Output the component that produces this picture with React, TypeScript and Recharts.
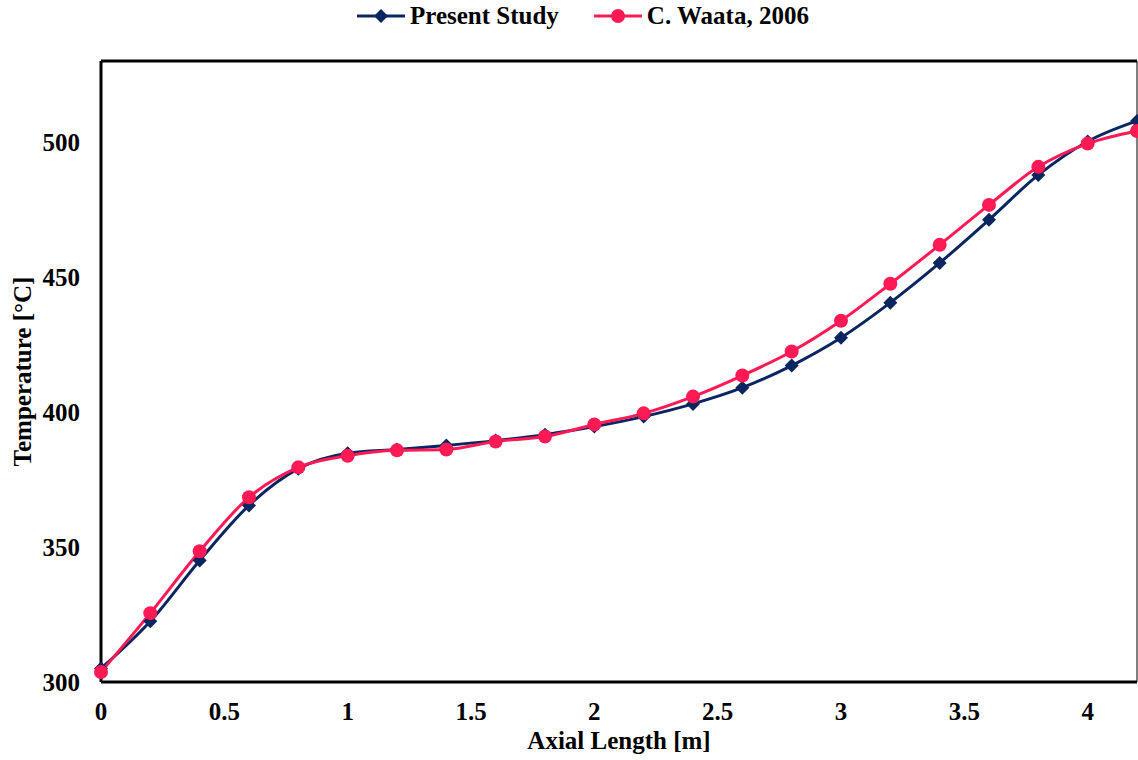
import React from "react";
import { LineChart, Line, XAxis, YAxis, ReferenceLine, Label } from "recharts";

const axialLength = [0, 0.2, 0.4, 0.6, 0.8, 1, 1.2, 1.4, 1.6, 1.8, 2, 2.2, 2.4, 2.6, 2.8, 3, 3.2, 3.4, 3.6, 3.8, 4, 4.2];
const presentStudy = [305, 322.5, 345, 365.4, 379, 384.7, 386.1, 387.6, 389.4, 391.6, 394.6, 398.3, 403, 409, 417.2, 427.5, 440.5, 455.2, 471.2, 487.8, 500.2, 507.8];
const waata2006 = [303.7, 325.5, 348.4, 368.4, 379.5, 383.8, 385.8, 386.1, 389.1, 390.9, 395.4, 399.5, 405.7, 413.5, 422.4, 433.8, 447.5, 461.9, 476.7, 490.8, 499.4, 504.1];
const xTicks = [0, 0.5, 1, 1.5, 2, 2.5, 3, 3.5, 4];
const yTicks = [300, 350, 400, 450, 500];

const data = axialLength.map((x, i) => ({ x, present: presentStudy[i], waata: waata2006[i] }));

const NAVY = "#0B2561";
const RED = "#FF1A55";
const FONT = "'Liberation Serif', 'Times New Roman', serif";
const FS = 25;

function Diamond(props: any) {
  const { cx, cy } = props;
  if (cx == null || cy == null) return null;
  const s = 7;
  return <polygon points={`${cx},${cy - s} ${cx + s},${cy} ${cx},${cy + s} ${cx - s},${cy}`} fill={NAVY} />;
}

function LegendBox() {
  const item = (color: string, label: string, marker: React.ReactNode, gap: number) => (
    <div style={{ display: "flex", alignItems: "center", marginRight: gap }}>
      <svg width={48} height={20} style={{ display: "block" }}>
        <line x1={0} y1={10} x2={48} y2={10} stroke={color} strokeWidth={3} />
        {marker}
      </svg>
      <span style={{ marginLeft: 5 }}>{label}</span>
    </div>
  );
  return (
    <div
      style={{
        position: "absolute",
        top: 2,
        left: 357,
        height: 28,
        display: "flex",
        alignItems: "center",
        fontFamily: FONT,
        fontWeight: "bold",
        fontSize: FS,
        lineHeight: "28px",
        color: "#000",
      }}
    >
      {item(NAVY, "Present Study", <polygon points="24,3 31,10 24,17 17,10" fill={NAVY} />, 35)}
      {item(RED, "C. Waata, 2006", <circle cx={24} cy={10} r={7} fill={RED} />, 0)}
    </div>
  );
}

export default function App() {
  const tickStyle = { fontFamily: FONT, fontWeight: "bold" as const, fontSize: FS, fill: "#000" };
  const titleStyle = { fontFamily: FONT, fontWeight: "bold", fontSize: FS, fill: "#000", textAnchor: "middle" as const };
  return (
    <div style={{ position: "absolute", left: 0, top: 0, width: 1138, height: 760, background: "#fff" }}>
      <LegendBox />
      <LineChart width={1138} height={760} data={data} margin={{ top: 61, right: 1, left: 0, bottom: 0 }}>
        <XAxis
          dataKey="x"
          type="number"
          domain={[0, 4.2]}
          ticks={xTicks}
          height={78}
          tickSize={0}
          tickMargin={20}
          axisLine={{ stroke: "#000", strokeWidth: 3 }}
          tick={tickStyle}
          interval={0}
        >
          <Label value="Axial Length [m]" position="insideBottom" offset={11} style={titleStyle} />
        </XAxis>
        <YAxis
          type="number"
          domain={[300, 530]}
          ticks={yTicks}
          width={101}
          tickSize={0}
          tickMargin={21}
          axisLine={{ stroke: "#000", strokeWidth: 3 }}
          tick={tickStyle}
          interval={0}
        >
          <Label value="Temperature [°C]" angle={-90} position="center" dx={-28} style={titleStyle} />
        </YAxis>
        <ReferenceLine y={530} stroke="#000" strokeWidth={3} />
        <ReferenceLine x={4.2} stroke="#000" strokeWidth={1} />
        <Line
          type="monotone"
          dataKey="present"
          stroke={NAVY}
          strokeWidth={3}
          dot={<Diamond />}
          activeDot={false}
          isAnimationActive={false}
        />
        <Line
          type="monotone"
          dataKey="waata"
          stroke={RED}
          strokeWidth={3}
          dot={{ r: 7, fill: RED, stroke: RED, strokeWidth: 0 }}
          activeDot={false}
          isAnimationActive={false}
        />
      </LineChart>
    </div>
  );
}
